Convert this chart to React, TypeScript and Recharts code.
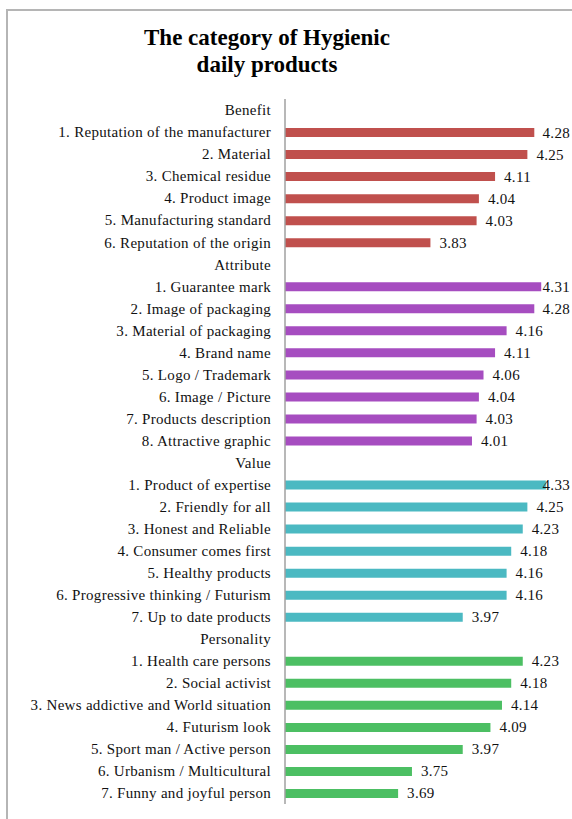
import React from "react";
import { BarChart, Bar, XAxis, YAxis, Cell, LabelList } from "recharts";

const benefitLabels = [
  "1. Reputation of the manufacturer",
  "2. Material",
  "3. Chemical residue",
  "4. Product image",
  "5. Manufacturing standard",
  "6. Reputation of the origin",
];
const benefitValues = [4.28, 4.25, 4.11, 4.04, 4.03, 3.83];

const attributeLabels = [
  "1. Guarantee mark",
  "2. Image of packaging",
  "3. Material of packaging",
  "4. Brand name",
  "5. Logo / Trademark",
  "6. Image / Picture",
  "7. Products description",
  "8. Attractive graphic",
];
const attributeValues = [4.31, 4.28, 4.16, 4.11, 4.06, 4.04, 4.03, 4.01];

const valueLabels = [
  "1. Product of expertise",
  "2. Friendly  for all",
  "3. Honest and Reliable",
  "4. Consumer comes first",
  "5. Healthy products",
  "6. Progressive  thinking / Futurism",
  "7. Up to date products",
];
const valueValues = [4.33, 4.25, 4.23, 4.18, 4.16, 4.16, 3.97];

const personalityLabels = [
  "1. Health care persons",
  "2. Social activist",
  "3. News  addictive and World situation",
  "4. Futurism look",
  "5. Sport man / Active person",
  "6. Urbanism / Multicultural",
  "7. Funny and joyful person",
];
const personalityValues = [4.23, 4.18, 4.14, 4.09, 3.97, 3.75, 3.69];

const groups = [
  { name: "Benefit", color: "#C0504D", labels: benefitLabels, values: benefitValues },
  { name: "Attribute", color: "#A64DC0", labels: attributeLabels, values: attributeValues },
  { name: "Value", color: "#4BB9C2", labels: valueLabels, values: valueValues },
  { name: "Personality", color: "#4CBF63", labels: personalityLabels, values: personalityValues },
];

// header rows have no value, so they only show up as a label
const rows: { label: string; value: number | null; color: string }[] = [];
groups.forEach((g) => {
  rows.push({ label: g.name, value: null, color: g.color });
  g.labels.forEach((l, i) => rows.push({ label: l, value: g.values[i], color: g.color }));
});

const font = "'Liberation Serif', 'Times New Roman', serif";
const CHART_W = 572;

// value label to the right of the bar, pulled back in if it would run off the edge
const ValueLabel = (props: any) => {
  const { x, y, width, height, value } = props;
  if (value == null) return null;
  const text = Number(value).toFixed(2);
  const textW = 30;
  const tx = x + width + 9;
  const overflow = tx + textW > CHART_W - 2;
  return (
    <text
      x={overflow ? CHART_W - 2 : tx}
      y={y + height / 2}
      textAnchor={overflow ? "end" : "start"}
      dominantBaseline="central"
      style={{ fontFamily: font, fontSize: 15, fill: "#111", letterSpacing: 0.3 }}
    >
      {text}
    </text>
  );
};

export default function App() {
  return (
    <div style={{ position: "absolute", left: 0, top: 0, width: 572, height: 819, background: "#fff", overflow: "hidden" }}>
      <div
        style={{
          position: "absolute",
          left: 6,
          top: 9,
          width: 580,
          height: 830,
          borderLeft: "2px solid #b5b5b5",
          borderTop: "2px solid #b5b5b5",
        }}
      />
      <div
        style={{
          position: "absolute",
          left: 0,
          top: 24,
          width: 534,
          textAlign: "center",
          fontFamily: font,
          fontWeight: "bold",
          fontSize: 23,
          lineHeight: "27px",
          color: "#000",
        }}
      >
        The category of Hygienic
        <br />
        daily products
      </div>
      <div style={{ position: "absolute", left: 0, top: 0 }}>
        <BarChart
          width={CHART_W}
          height={819}
          data={rows}
          layout="vertical"
          margin={{ top: 99, right: 10, bottom: 15, left: 0 }}
          barSize={9}
        >
          <XAxis type="number" domain={[3.2, 4.4]} hide allowDataOverflow />
          <YAxis
            type="category"
            dataKey="label"
            width={285}
            interval={0}
            tickLine={false}
            tickMargin={8}
            axisLine={{ stroke: "#a0a0a0", strokeWidth: 1.5 }}
            tick={{ fontFamily: font, fontSize: 15, fill: "#111", letterSpacing: 0.3 }}
          />
          <Bar dataKey="value" isAnimationActive={false}>
            {rows.map((r, i) => (
              <Cell key={`cell-${i}`} fill={r.color} />
            ))}
            <LabelList dataKey="value" content={<ValueLabel />} />
          </Bar>
        </BarChart>
      </div>
    </div>
  );
}
